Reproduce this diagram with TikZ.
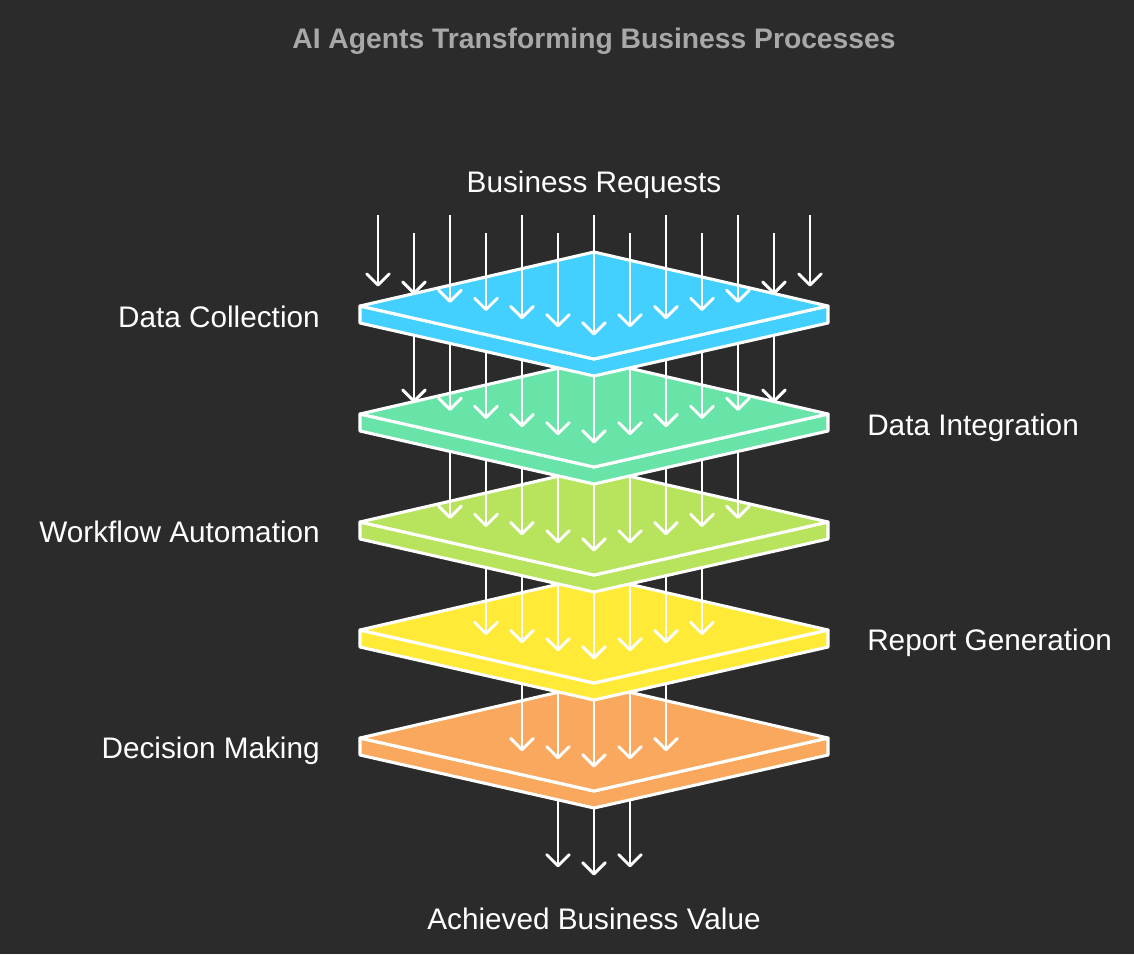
\documentclass[tikz,border=0pt]{standalone}
\usepackage{fontspec}
\setmainfont{Liberation Sans}
\usetikzlibrary{arrows.meta}

\definecolor{bgdark}{HTML}{2B2B2B}
\definecolor{titlegray}{HTML}{A8A8A8}
\definecolor{layerblue}{HTML}{43D0FF}
\definecolor{layergreen}{HTML}{68E4A8}
\definecolor{layerlime}{HTML}{B8E35C}
\definecolor{layeryellow}{HTML}{FFEA38}
\definecolor{layerorange}{HTML}{FAA85E}

\tikzset{
  slab/.style={draw=white, line width=2.3pt, line join=round},
  flow/.style={white, line width=2.2pt, -{Straight Barb[length=8.5pt,width=17pt,line width=2.2pt,round]}},
  sidelabel/.style={text=white, inner sep=0pt, font=\fontsize{22.3}{26}\selectfont},
  headline/.style={text=titlegray, inner sep=0pt, font=\bfseries\fontsize{21.2}{25}\selectfont}
}

\begin{document}
\begin{tikzpicture}[x=0.75pt,y=-0.75pt]
    \fill[bgdark] (0,0) rectangle (1134,954);
    \node[headline, anchor=base] (title) at (594,48) {AI Agents Transforming Business Processes};

    % arrows leaving the last layer
    \foreach \k in {-1,0,1} {
      \pgfmathsetmacro{\tip}{875.5-abs(\k)*8.15}
      \draw[flow] (594+36*\k,738) -- (594+36*\k,\tip);
    }

    % layers from bottom to top, each with the arrows falling onto it
    \foreach \i/\col in {4/layerorange,3/layeryellow,2/layerlime,1/layergreen,0/layerblue} {
      \pgfmathsetmacro{\c}{306+108*\i}
      \filldraw[slab, fill=\col] (360,\c) -- (360,\c+17) -- (594,\c+70) -- (828,\c+17) -- (828,\c) -- (594,\c+53) -- cycle;
      \filldraw[slab, fill=\col] (594,\c-54) -- (828,\c) -- (594,\c+53) -- (360,\c) -- cycle;
      \pgfmathtruncatemacro{\n}{6-\i}
      \foreach \k in {-\n,...,\n} {
        \pgfmathsetmacro{\tip}{\c+29.5-abs(\k)*8.15}
        \pgfmathsetmacro{\st}{ifthenelse(\i==0, ifthenelse(mod(abs(\k),2)==1,233,215), \c-108)}
        \draw[flow] (594+36*\k,\st) -- (594+36*\k,\tip);
      }
    }

    \node[sidelabel, anchor=base] (requests) at (594,192) {Business Requests};
    \node[sidelabel, anchor=base east] (collect) at (320,327) {Data Collection};
    \node[sidelabel, anchor=base west] (integrate) at (867,435) {Data Integration};
    \node[sidelabel, anchor=base east] (workflow) at (320,542) {Workflow Automation};
    \node[sidelabel, anchor=base west] (report) at (867,650) {Report Generation};
    \node[sidelabel, anchor=base east] (decide) at (320,758) {Decision Making};
    \node[sidelabel, anchor=base] (value) at (594,929) {Achieved Business Value};
  \end{tikzpicture}
\end{document}
